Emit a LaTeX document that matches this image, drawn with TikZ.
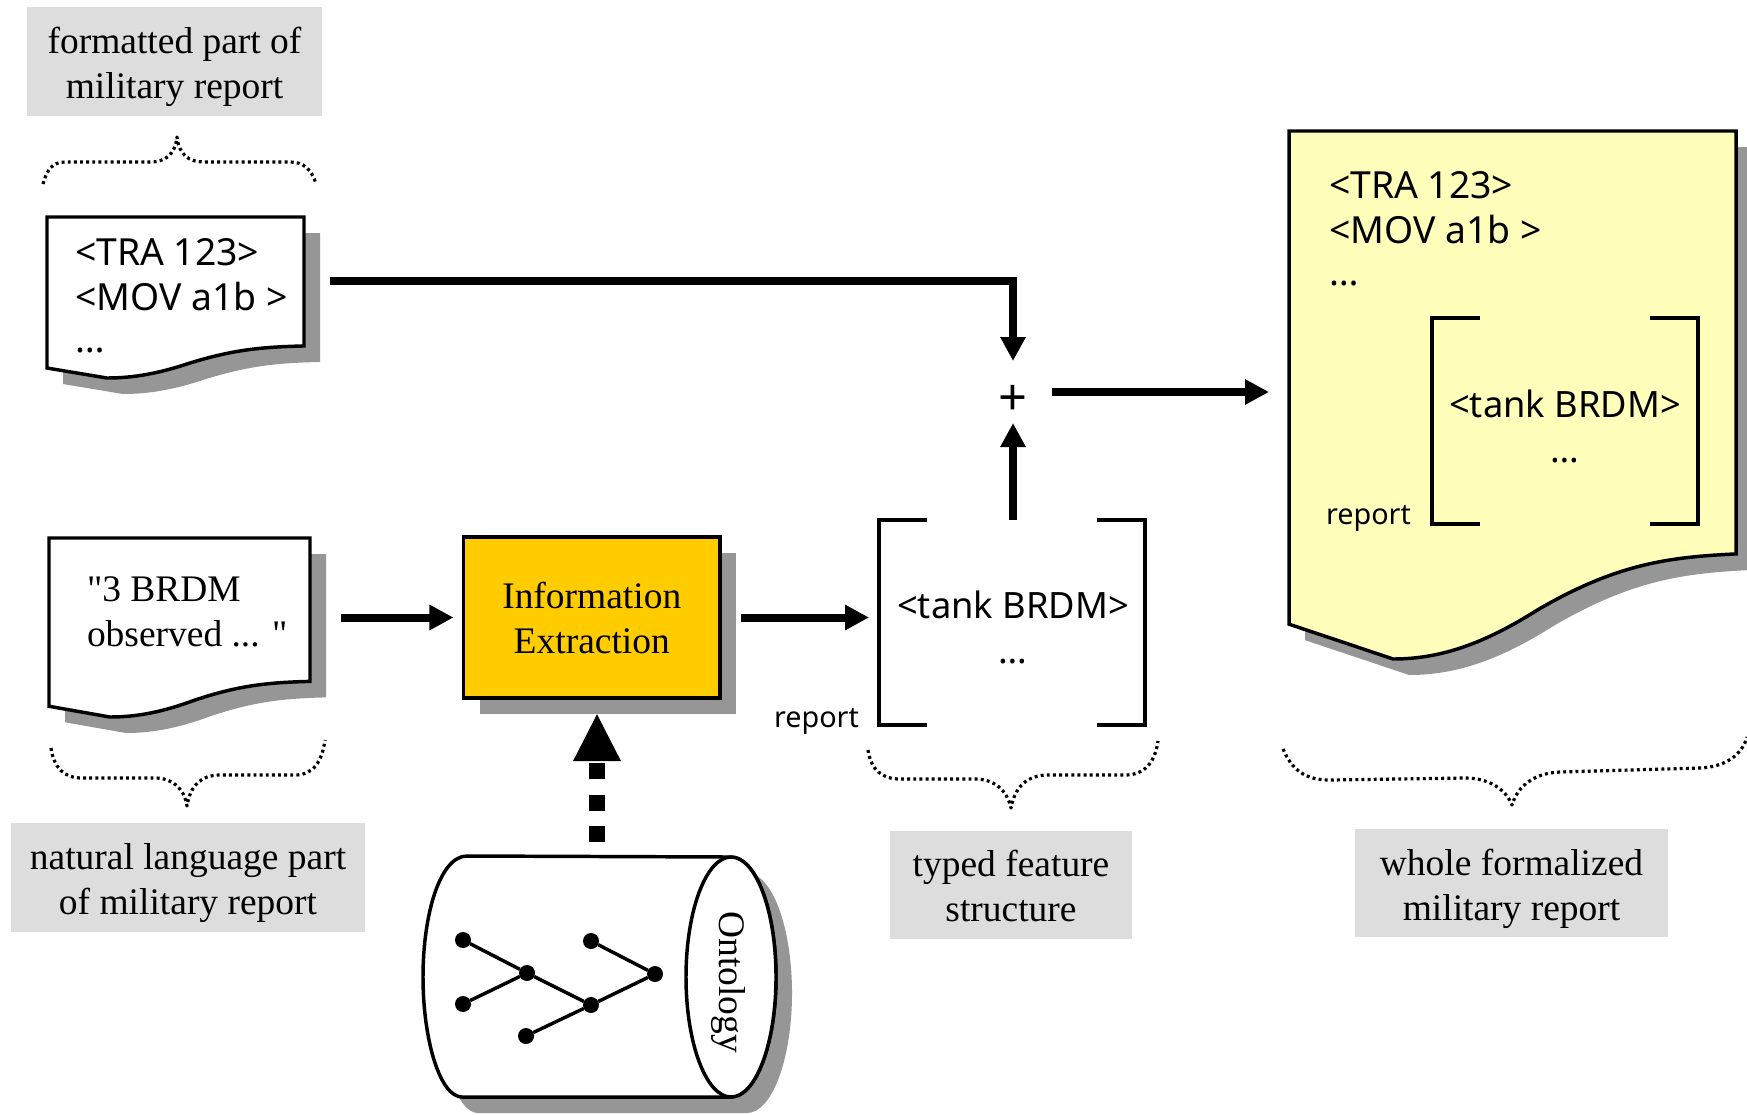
\documentclass[tikz,border=0pt]{standalone}
\usepackage{fontspec}
\setmainfont{Liberation Serif}
\newfontfamily\tahomalike{Noto Sans}
\newfontfamily\plainserif{Liberation Serif}
\usetikzlibrary{arrows.meta,calc}
\definecolor{shadowgrey}{HTML}{969696}
\definecolor{lab}{HTML}{DDDDDD}
\definecolor{ie}{HTML}{FFCC00}
\definecolor{paper}{HTML}{FFFFBB}
\tikzset{
  ghost/.style={inner sep=0pt,outer sep=0pt,draw=none},
  caption/.style={fill=lab,inner sep=0pt,outer sep=0pt,align=center,font=\fontsize{28.1}{33.75}\selectfont},
  serif/.style={inner sep=0pt,outer sep=0pt,align=left,font=\plainserif\fontsize{28.1}{33.75}\selectfont},
  mono/.style={inner sep=0pt,outer sep=0pt,align=left,font=\tahomalike\fontsize{28}{33.75}\selectfont},
  tankfont/.style={inner sep=0pt,outer sep=0pt,align=center,font=\tahomalike\fontsize{27.2}{33.75}\selectfont},
  small/.style={inner sep=0pt,outer sep=0pt,font=\tahomalike\fontsize{21.6}{27}\selectfont},
  thickline/.style={line width=6pt,-{Triangle[width=18pt,length=18pt]}},
  dotty/.style={line width=2.4pt,line join=round,dash pattern=on 2.2pt off 2.4pt},
  border/.style={draw=black,line width=2.6pt,line join=miter},
  bracket/.style={draw=black,line width=2.4pt},
  onode/.style={circle,fill=black,minimum size=12pt,inner sep=0pt,outer sep=0pt},
  oedge/.style={draw=black,line width=2.6pt},
}
\newcommand{\docshape}[6]{%
  \begin{scope}[shift={(#1,#2)},x=#3*0.75pt,y=-#4*0.75pt]
    \path[#5] (0,0) -- (1,0) -- (1,0.801)
      .. controls (0.848,0.807) and (0.732,0.82) .. (0.556,0.907)
      .. controls (0.44,0.969) and (0.342,1) .. (0.233,1)
      -- (0,#6) -- cycle;
  \end{scope}}
\newcommand{\bracketpair}[4]{%
  \draw[bracket] (#1+48,#2) -- (#1,#2) -- (#1,#4) -- (#1+48,#4);
  \draw[bracket] (#3-48,#2) -- (#3,#2) -- (#3,#4) -- (#3-48,#4);}
\begin{document}
\begin{tikzpicture}[x=0.75pt,y=-0.75pt]
\useasboundingbox (0,0) rectangle (1747,1114);
\clip (0,0) rectangle (1747,1114);
\fill[white] (0,0) rectangle (1747,1114);

% caption boxes
\node[caption,minimum width=221.25pt,minimum height=81.75pt] (capA) at (174.5,61.5) {\rule{0pt}{27.5pt}formatted part of\\military report};
\node[caption,minimum width=265.5pt,minimum height=81.75pt] (capB) at (188,877.5) {\rule{0pt}{27.5pt}natural language part\\of military report};
\node[caption,minimum width=181.5pt,minimum height=81pt] (capC) at (1011,884.5) {\rule{0pt}{22.5pt}typed feature\\structure};
\node[caption,minimum width=234.75pt,minimum height=81pt] (capD) at (1511.5,883) {\rule{0pt}{29pt}whole formalized\\military report};

% braces
\draw[dotty] (43,184) .. controls (47,170) and (52,162) .. (65,162) -- (150,162) .. controls (165,162) and (175,155) .. (177,137) .. controls (179,155) and (189,162) .. (204,162) -- (290,162) .. controls (304,162) and (312,170) .. (316,184);
\draw[dotty] (51,748) .. controls (54,768) and (64,778) .. (82,778) -- (155,778) .. controls (172,778) and (184,788) .. (187,806) .. controls (190,786) and (201,775) .. (220,775) -- (295,775) .. controls (313,775) and (322,762) .. (325,740);
\draw[dotty] (868,750) .. controls (871,770) and (882,779) .. (900,779) -- (975,779) .. controls (994,779) and (1007,790) .. (1011,808) .. controls (1015,786) and (1028,775) .. (1048,775) -- (1125,775) .. controls (1145,775) and (1155,762) .. (1158,741);
\draw[dotty] (1283,749) .. controls (1292,770) and (1305,780) .. (1330,780) -- (1465,778) .. controls (1490,778) and (1506,790) .. (1512,805) .. controls (1518,785) and (1535,773) .. (1560,772) -- (1700,768) .. controls (1725,767) and (1742,755) .. (1747,737);

% documents
\docshape{63}{233}{257}{161}{fill=shadowgrey}{0.938}
\docshape{47}{217}{257}{161}{fill=white,border}{0.938}
\node[ghost,minimum width=192.75pt,minimum height=96pt] (docA) at (175.5,281) {};
\node[mono,anchor=north west] (docAtext) at (75,238) {<TRA 123>\\<MOV a1b >\\[-2pt]\dots};

\docshape{65}{554}{261}{179}{fill=shadowgrey}{0.94}
\docshape{49}{538}{261}{179}{fill=white,border}{0.94}
\node[ghost,minimum width=195.75pt,minimum height=117pt] (docB) at (179.5,617.5) {};
\node[serif,anchor=north west] (docBtext) at (87,577) {"3 BRDM\\observed ... "};

\docshape{1305}{147}{447}{528}{fill=shadowgrey}{0.934}
\docshape{1289}{131}{447}{528}{fill=paper,border}{0.934}
\node[ghost,minimum width=335.25pt,minimum height=391.5pt] (docC) at (1512.5,392) {};
\node[mono,anchor=north west] (docCtext) at (1329,171) {<TRA 123>\\<MOV a1b >\\[-2pt]\dots};

% Information Extraction
\fill[shadowgrey] (479.5,553) rectangle (736,714);
\node[draw=black,line width=2.6pt,fill=ie,minimum width=192.4pt,minimum height=120.75pt,inner sep=0pt,outer sep=0pt,align=center,font=\fontsize{28.1}{33.75}\selectfont] (ie) at (591.75,617.5) {Information\\Extraction};

% first bracket
\bracketpair{879}{520}{1145}{725}
\node[ghost,minimum width=199.5pt,minimum height=146.25pt] (brA) at (1012,617.5) {};
\node[tankfont,anchor=north] (brAtext) at (1013,591) {<tank BRDM>\\\dots};
\node[small,anchor=base west] (repA) at (774,727) {report};

% second bracket
\bracketpair{1432}{318}{1698}{524}
\node[tankfont,anchor=north] (brBtext) at (1565,390) {<tank BRDM>\\\dots};
\node[small,anchor=base west] (repB) at (1326,524) {report};

% plus
\node[ghost,minimum width=46.5pt,minimum height=46.5pt] (plus) at (1013,392) {};
\node[ghost,font=\tahomalike\fontsize{38}{40}\selectfont] (plustext) at (1013,400) {+};

% connectors
\draw[thickline,shorten <=19.5pt] (docA.east) -- (docA.east -| plus) -- (plus.north);
\draw[thickline] (brA.north -| plus) -- (plus.south);
\draw[thickline,shorten <=6pt,shorten >=15pt] (plus.east) -- (docC.west);
\draw[thickline,shorten <=23.25pt,shorten >=7.5pt] (docB.east) -- (ie.west);
\draw[thickline,shorten <=15.75pt,shorten >=7.5pt] (ie.east) -- (brA.west);

% ontology
\begin{scope}[shift={(16,16)}]
\fill[shadowgrey] (467,856) -- (731,857) arc[start angle=90,end angle=-90,x radius=45,y radius=-120] -- (462,1097) .. controls (440,1097) and (423,1040) .. (423,977) .. controls (423,914) and (440,856) .. (467,856) -- cycle;
\end{scope}
\draw[border,fill=white] (467,856) -- (731,857) arc[start angle=90,end angle=-90,x radius=45,y radius=-120] -- (462,1097) .. controls (440,1097) and (423,1040) .. (423,977) .. controls (423,914) and (440,856) .. (467,856) -- cycle;
\draw[border,fill=white] (731,977) ellipse[x radius=45,y radius=120];
\node[ghost,minimum width=268.5pt,minimum height=180.75pt] (ont) at (597,976.5) {};
\node[ghost,rotate=-90,font=\fontsize{28.1}{33.75}\selectfont] (onttext) at (728,982) {Ontology};
\node[onode] (n1) at (463,940) {};
\node[onode] (n2) at (527,973) {};
\node[onode] (n3) at (463,1004) {};
\node[onode] (n4) at (591,941) {};
\node[onode] (n5) at (655,974) {};
\node[onode] (n6) at (591,1005) {};
\node[onode] (n7) at (526,1036) {};
\draw[oedge] (n1) -- (n2);
\draw[oedge] (n3) -- (n2);
\draw[oedge] (n2) -- (n6);
\draw[oedge] (n4) -- (n5);
\draw[oedge] (n5) -- (n6);
\draw[oedge] (n7) -- (n6);

\draw[line width=12pt,dash pattern=on 12pt off 11.5pt,shorten <=10.5pt,shorten >=11.25pt,-{Triangle[width=33pt,length=36pt]}] (ont.north) -- (ont.north |- ie.south);
\end{tikzpicture}
\end{document}
